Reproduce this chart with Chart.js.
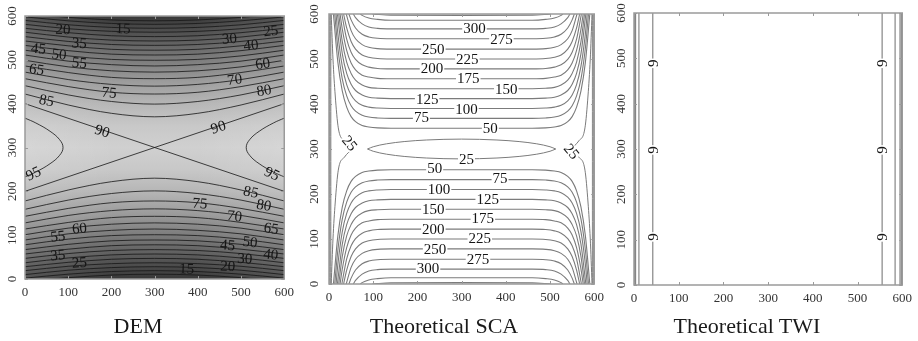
<!DOCTYPE html>
<html>
<head>
<meta charset="utf-8">
<script src="https://cdn.jsdelivr.net/npm/chart.js@4/dist/chart.umd.min.js"></script>
<style>
  html, body { margin: 0; padding: 0; background: #fff; }
  #wrap { position: relative; width: 918px; height: 341px; overflow: hidden; }
  .panel { position: absolute; top: 0; }
  .ttl { position: absolute; top: 315px; font: 22px "Liberation Serif", "Times New Roman", serif;
         line-height: 22px; color: #1a1a1a; white-space: nowrap; transform: translateX(-50%); }
</style>
</head>
<body>
<div id="wrap">
  <div class="panel" style="left:0"><canvas id="c-dem" width="300" height="341"></canvas></div>
  <div class="panel" style="left:300px"><canvas id="c-sca" width="310" height="341"></canvas></div>
  <div class="panel" style="left:610px"><canvas id="c-twi" width="308" height="341"></canvas></div>
  <div class="ttl" style="left:138px">DEM</div>
  <div class="ttl" style="left:444px">Theoretical SCA</div>
  <div class="ttl" style="left:747px">Theoretical TWI</div>
</div>
<script>
// ── data (grid units 0..600) ────────────────────────────────────────
const AXIS_TICKS = [0, 100, 200, 300, 400, 500, 600];

// DEM: contour y (upper half) at each x; lower half is the mirror image
const DEM_X = [0, 100, 200, 300, 400, 500, 600];
const DEM_LEVELS = [5, 10, 15, 20, 25, 30, 35, 40, 45, 50, 55, 60, 65, 70, 75, 80, 85];
const DEM_UPPER = [
  [606, 597, 591, 589, 591, 597, 606],
  [598, 589, 583, 581, 583, 589, 598],
  [590, 580, 574, 572, 574, 580, 590],
  [581, 571, 565, 563, 565, 571, 581],
  [572, 562, 555, 553, 555, 562, 572],
  [563, 552, 545, 543, 545, 552, 563],
  [553, 542, 535, 533, 535, 542, 553],
  [543, 532, 524, 522, 524, 532, 543],
  [533, 521, 513, 511, 513, 521, 533],
  [522, 509, 501, 499, 501, 509, 522],
  [511, 497, 489, 486, 489, 497, 511],
  [499, 484, 475, 472, 475, 484, 499],
  [486, 471, 460, 457, 460, 471, 486],
  [472, 455, 444, 440, 444, 455, 472],
  [457, 439, 426, 422, 426, 439, 457],
  [441, 420, 405, 399, 405, 420, 441],
  [422, 397, 378, 370, 378, 397, 422],
];
const DEM_90_ENDS = [400, 200];            // y at x=0 and x=600 (the X through the saddle)
const DEM_95_X = [0, 25, 58, 80, 88, 80, 58, 25, 0];
const DEM_95_Y = [233, 244, 263, 282, 300, 318, 337, 356, 367];
const DEM_LABELS = [
  ['20', 88, 570, 3], ['15', 227, 572, 2], ['30', 473, 549, -4], ['25', 569, 567, -6],
  ['45', 31, 526, 6], ['35', 126, 539, 4], ['40', 523, 534, -6], ['50', 79, 513, 6],
  ['55', 126, 494, 5], ['60', 550, 492, -8], ['65', 27, 479, 8], ['70', 485, 456, -7],
  ['80', 553, 431, -10], ['75', 195, 426, 5], ['85', 50, 408, 12], ['90', 179, 338, 18],
  ['90', 447, 347, -18], ['95', 19, 241, -25], ['95', 572, 241, 25], ['85', 523, 199, 12],
  ['80', 553, 169, 10], ['75', 405, 173, 5], ['70', 485, 144, 7], ['65', 570, 116, 8],
  ['60', 126, 116, -5], ['55', 76, 98, -6], ['50', 521, 85, 6], ['45', 469, 78, 5],
  ['40', 569, 57, 6], ['35', 76, 55, -5], ['30', 509, 47, 4], ['25', 126, 38, -4],
  ['20', 469, 30, 3], ['15', 374, 24, 2],
];

// SCA: upper-left quarter of each contour (mirrored to the right and below)
const SCA_LEVELS = [50, 75, 100, 125, 150, 175, 200, 225, 250, 275, 300, 325, 350];
const SCA_QUARTERS = [
  [[10, 600], [20, 493], [30, 429], [40, 393], [50, 372], [60, 361], [75, 352], [90, 349], [110, 347], [140, 346], [300, 346]],
  [[13, 600], [20, 525], [30, 456], [40, 418], [50, 396], [60, 384], [75, 375], [90, 371], [110, 369], [140, 368], [300, 368]],
  [[16, 600], [20, 557], [30, 484], [40, 443], [50, 420], [60, 407], [75, 397], [90, 393], [110, 391], [140, 390], [300, 390]],
  [[19, 600], [30, 512], [40, 468], [50, 444], [60, 430], [75, 420], [90, 415], [110, 413], [140, 412], [300, 412]],
  [[22, 600], [30, 539], [40, 493], [50, 468], [60, 453], [75, 442], [90, 437], [110, 435], [140, 434], [300, 434]],
  [[25, 600], [30, 567], [40, 519], [50, 491], [60, 476], [75, 464], [90, 460], [110, 457], [140, 456], [300, 456]],
  [[29, 600], [40, 544], [50, 515], [60, 499], [75, 487], [90, 482], [110, 479], [140, 478], [300, 478]],
  [[33, 600], [40, 569], [50, 539], [60, 522], [75, 509], [90, 504], [110, 501], [140, 500], [300, 500]],
  [[39, 600], [50, 563], [60, 545], [75, 532], [90, 526], [110, 523], [140, 522], [300, 522]],
  [[45, 600], [50, 587], [60, 569], [75, 555], [90, 549], [110, 546], [140, 545], [300, 545]],
  [[55, 600], [60, 592], [75, 578], [90, 571], [110, 568], [140, 567], [300, 567]],
  [[71, 600], [75, 597], [90, 591], [110, 588], [140, 586], [300, 586]],
  [[98, 600], [110, 599], [140, 597.5], [300, 597]],
];
const SCA_25_SIDE = [[5, 600], [9, 500], [14, 420], [21, 347], [35, 318], [53, 300]];
const SCA_25_LENS = [[87, 300], [100, 305], [130, 311.5], [170, 316.5], [220, 320], [300, 322]];
const SCA_EDGE_X = [1.2, 2.6, 4.2];
const SCA_LABELS = [
  ['300', 329, 569], ['275', 390, 545], ['250', 236, 522], ['225', 313, 500], ['200', 233, 479],
  ['175', 315, 457], ['150', 401, 434], ['125', 222, 412], ['100', 311, 388], ['75', 209, 371],
  ['50', 365, 347], ['25', 311, 278], ['50', 239, 257], ['75', 387, 235], ['100', 249, 210],
  ['125', 359, 188], ['150', 236, 166], ['175', 348, 146], ['200', 236, 123], ['225', 341, 101],
  ['250', 240, 78], ['275', 337, 56], ['300', 224, 35], ['25', 47, 313, 50], ['25', 549, 295, 50],
];

// TWI: straight vertical contours
const TWI_X = [1.5, 3.5, 11, 42, 555, 584, 595, 598];
const TWI_LABELS = [
  ['9', 42, 489, -90], ['9', 42, 298, -90], ['9', 42, 106, -90],
  ['9', 555, 489, -90], ['9', 555, 298, -90], ['9', 555, 106, -90],
];

// ── helpers ─────────────────────────────────────────────────────────
const SERIF = '"Liberation Serif", "Times New Roman", serif';

function curve(pts, color, extra) {
  return Object.assign({
    data: pts.map(p => ({ x: p[0], y: p[1] })),
    showLine: true, pointRadius: 0, borderWidth: 1, borderColor: color,
    fill: false, cubicInterpolationMode: 'monotone',
  }, extra || {});
}
const flipY = pts => pts.map(([x, y]) => [x, 600 - y]);
const flipX = pts => pts.map(([x, y]) => [600 - x, y]).reverse();

// shading / frame / labels drawn on top of the library's scales
function makeDecor(cfg) {
  return {
    id: 'decor',
    beforeDatasetsDraw(chart) {
      if (!cfg.shade) return;
      const { ctx, chartArea: a } = chart;
      ctx.save();
      const g = ctx.createLinearGradient(0, a.top, 0, a.bottom);
      const stops = ['#383838', '#595959', '#7c7c7c', '#9c9c9c', '#b6b6b6', '#c8c8c8', '#d0d0d0'];
      stops.forEach((c, i) => { g.addColorStop(i / 12, c); g.addColorStop(1 - i / 12, c); });
      ctx.fillStyle = g;
      ctx.fillRect(a.left, a.top, a.width, a.height);
      const h = ctx.createLinearGradient(a.left, 0, a.right, 0);
      h.addColorStop(0, 'rgba(255,255,255,0.13)');
      h.addColorStop(0.35, 'rgba(255,255,255,0)');
      h.addColorStop(0.65, 'rgba(255,255,255,0)');
      h.addColorStop(1, 'rgba(255,255,255,0.13)');
      ctx.fillStyle = h;
      ctx.fillRect(a.left, a.top, a.width, a.height);
      ctx.restore();
    },
    afterDatasetsDraw(chart) {
      const { ctx, chartArea: a, scales: { x, y } } = chart;
      ctx.save();
      ctx.font = '15px ' + SERIF;
      ctx.textAlign = 'center';
      ctx.textBaseline = 'middle';
      cfg.labels.forEach(([t, vx, vy, rot]) => {
        ctx.save();
        ctx.translate(x.getPixelForValue(vx), y.getPixelForValue(vy));
        ctx.rotate((rot || 0) * Math.PI / 180);
        if (cfg.box) {
          const w = ctx.measureText(t).width;
          ctx.fillStyle = '#fff';
          ctx.fillRect(-w / 2 - 1, -6, w + 2, 12);
        }
        ctx.fillStyle = '#151515';
        ctx.fillText(t, 0, 1);
        ctx.restore();
      });
      // frame + small inner ticks
      ctx.strokeStyle = '#9a9a9a';
      ctx.lineWidth = 1.5;
      ctx.strokeRect(a.left, a.top, a.width, a.height);
      ctx.lineWidth = 1;
      ctx.beginPath();
      AXIS_TICKS.forEach(v => {
        const px = Math.round(x.getPixelForValue(v)) + 0.5;
        const py = Math.round(y.getPixelForValue(v)) + 0.5;
        ctx.moveTo(px, a.top); ctx.lineTo(px, a.top + 3);
        ctx.moveTo(px, a.bottom); ctx.lineTo(px, a.bottom - 3);
        ctx.moveTo(a.left, py); ctx.lineTo(a.left + 3, py);
        ctx.moveTo(a.right, py); ctx.lineTo(a.right - 3, py);
      });
      ctx.stroke();
      ctx.restore();
    },
    afterDraw(chart) {
      const { ctx, chartArea: a, scales: { y } } = chart;
      ctx.save();
      ctx.font = '13px ' + SERIF;
      ctx.fillStyle = '#333';
      ctx.textAlign = 'center';
      ctx.textBaseline = 'middle';
      AXIS_TICKS.forEach(v => {
        ctx.save();
        ctx.translate(a.left - cfg.yLabelGap, y.getPixelForValue(v));
        ctx.rotate(-Math.PI / 2);
        ctx.fillText(String(v), 0, 0);
        ctx.restore();
      });
      ctx.restore();
    },
  };
}

function makeChart(id, pad, datasets, decor) {
  return new Chart(document.getElementById(id), {
    type: 'scatter',
    data: { datasets },
    options: {
      responsive: false, animation: false, devicePixelRatio: 1,
      layout: { padding: pad },
      plugins: { legend: { display: false }, tooltip: { enabled: false }, title: { display: false } },
      scales: {
        x: {
          type: 'linear', min: 0, max: 600,
          grid: { display: false, drawTicks: false }, border: { display: false },
          ticks: { stepSize: 100, autoSkip: false, maxRotation: 0, padding: 6, color: '#333',
                   font: { family: SERIF, size: 13 } },
          afterFit: s => { s.height = 24; },
        },
        y: { type: 'linear', min: 0, max: 600, display: false },
      },
    },
    plugins: [makeDecor(decor)],
  });
}

// ── DEM ─────────────────────────────────────────────────────────────
const demLine = 'rgba(22,22,22,0.8)';
const demSets = [];
DEM_UPPER.forEach(ys => {
  const up = DEM_X.map((x, i) => [x, ys[i]]);
  demSets.push(curve(up, demLine), curve(flipY(up), demLine));
});
demSets.push(curve([[0, DEM_90_ENDS[0]], [600, DEM_90_ENDS[1]]], demLine));
demSets.push(curve([[0, DEM_90_ENDS[1]], [600, DEM_90_ENDS[0]]], demLine));
const dem95 = DEM_95_X.map((x, i) => [x, DEM_95_Y[i]]);
demSets.push(curve(dem95, demLine, { cubicInterpolationMode: 'default', tension: 0.4 }));
demSets.push(curve(dem95.map(([x, y]) => [600 - x, y]), demLine, { cubicInterpolationMode: 'default', tension: 0.4 }));
makeChart('c-dem', { left: 25, right: 13, top: 16, bottom: 38 }, demSets,
  { shade: true, labels: DEM_LABELS, box: false, yLabelGap: 12 });

// ── SCA ─────────────────────────────────────────────────────────────
const scaLine = '#7b7b7b';
const scaSets = [];
SCA_QUARTERS.forEach(q => {
  const up = q.concat(flipX(q.slice(0, -1)));
  scaSets.push(curve(up, scaLine, { borderWidth: 1.1 }), curve(flipY(up), scaLine, { borderWidth: 1.1 }));
});
const side = SCA_25_SIDE;
scaSets.push(curve(side, scaLine), curve(flipY(side).reverse(), scaLine));
scaSets.push(curve(flipX(side), scaLine), curve(flipX(flipY(side).reverse()), scaLine));
const lens = SCA_25_LENS.concat(flipX(SCA_25_LENS.slice(0, -1)));
scaSets.push(curve(lens, scaLine), curve(flipY(lens), scaLine));
SCA_EDGE_X.forEach(x => {
  scaSets.push(curve([[x, 0], [x, 600]], '#8a8a8a'), curve([[600 - x, 0], [600 - x, 600]], '#8a8a8a'));
});
makeChart('c-sca', { left: 29, right: 12, top: 14, bottom: 33 }, scaSets,
  { shade: false, labels: SCA_LABELS, box: true, yLabelGap: 14 });

// ── TWI ─────────────────────────────────────────────────────────────
const twiSets = TWI_X.map(x => curve([[x, 0], [x, 600]], '#858585', { borderWidth: 1.2 }));
makeChart('c-twi', { left: 24, right: 15, top: 13, bottom: 32 }, twiSets,
  { shade: false, labels: TWI_LABELS, box: true, yLabelGap: 12 });
</script>
</body>
</html>
